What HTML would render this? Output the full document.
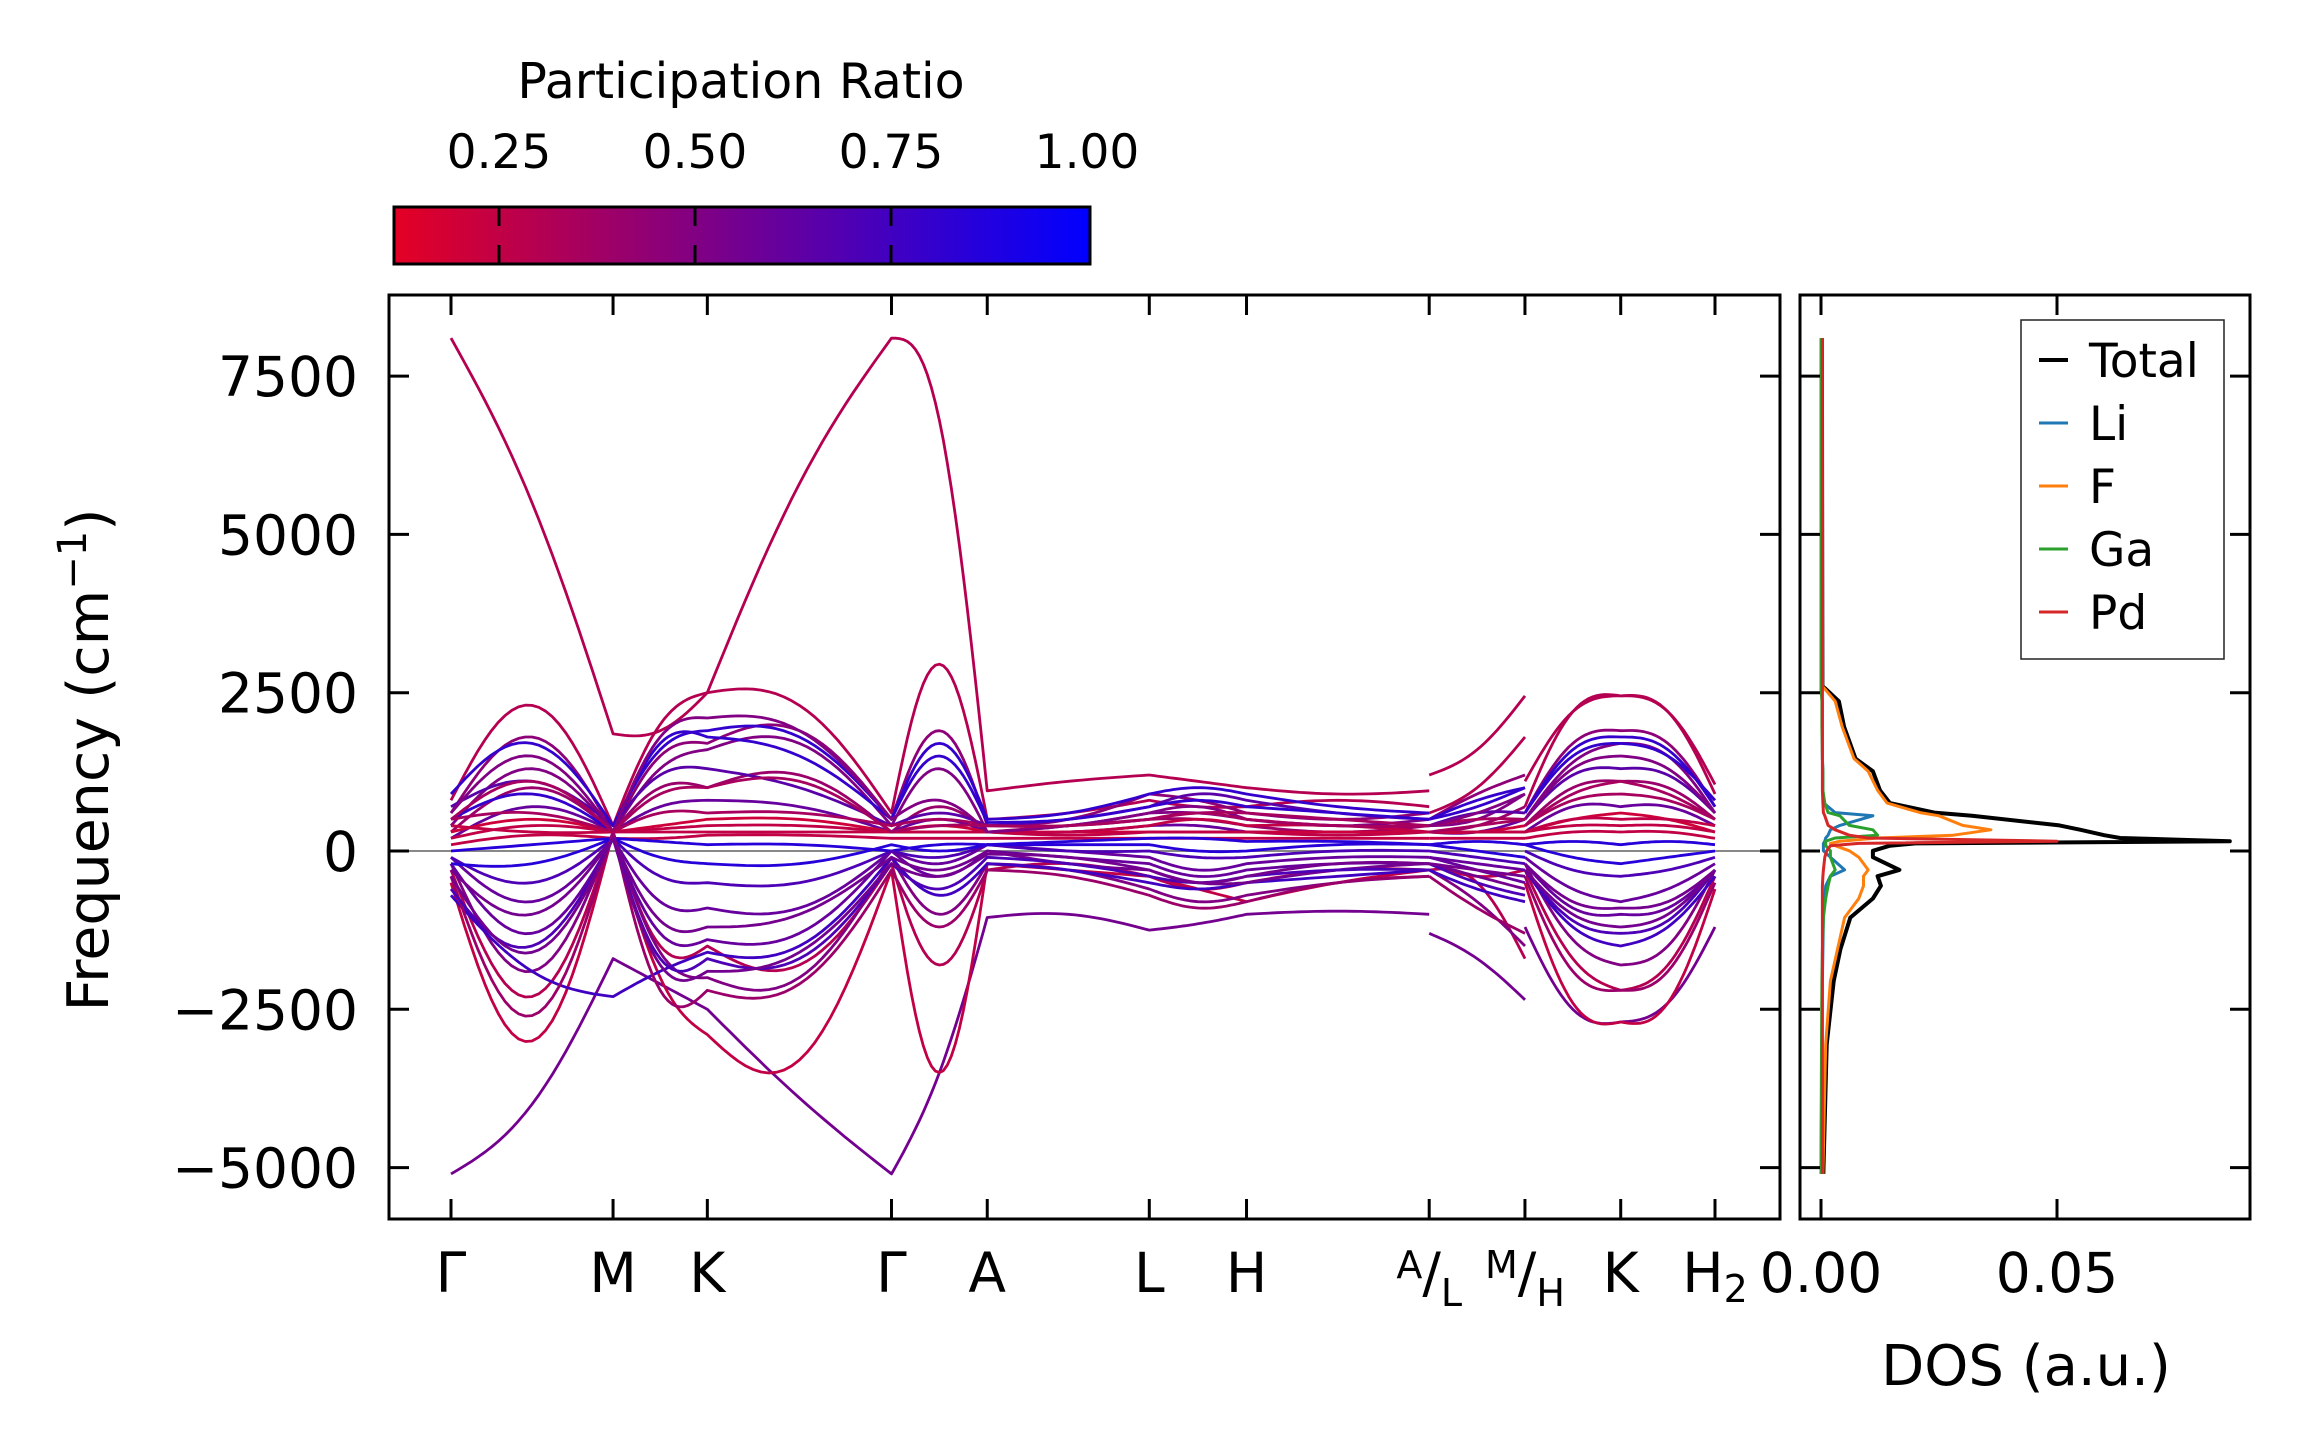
<!DOCTYPE html>
<html><head><meta charset="utf-8"><style>
html,body{margin:0;padding:0;background:#fff;}
svg{display:block;font-family:"DejaVu Sans","Liberation Sans",sans-serif;}
</style></head><body>
<svg id="fig" width="2308" height="1455" viewBox="0 0 2308 1455" xmlns="http://www.w3.org/2000/svg">
<defs>
<linearGradient id="cbgrad" x1="0" x2="1" y1="0" y2="0">
<stop offset="0" stop-color="rgb(228,0,36)"/><stop offset="1" stop-color="rgb(0,0,255)"/>
</linearGradient>
<clipPath id="mainclip"><rect x="389" y="295" width="1391" height="924"/></clipPath>
<clipPath id="dosclip"><rect x="1800" y="295" width="450" height="924"/></clipPath>
</defs>
<g id="colorbar">
<text x="741" y="98" font-size="49" text-anchor="middle">Participation Ratio</text>
<rect x="394" y="207" width="696" height="57" fill="url(#cbgrad)" stroke="#000" stroke-width="3"/>
<g id="cbticks"></g>
</g>
<g id="main">
<g id="bands" clip-path="url(#mainclip)"></g>
<rect x="389" y="295" width="1391" height="924" fill="none" stroke="#000" stroke-width="3"/>
<g id="mainticks"></g>
<text transform="translate(108,760) rotate(-90)" font-size="57" text-anchor="middle">Frequency (cm<tspan font-size="40" dy="-22">−1</tspan><tspan dy="22">)</tspan></text>
</g>
<g id="dos">
<g id="doslines" clip-path="url(#dosclip)"></g>
<rect x="1800" y="295" width="450" height="924" fill="none" stroke="#000" stroke-width="3"/>
<g id="dosticks"></g>
<text x="2026" y="1385" font-size="56" text-anchor="middle">DOS (a.u.)</text>
<g id="legend">
<rect x="2021" y="320" width="203" height="339" fill="#fff" stroke="#222" stroke-width="1.5"/>
</g>
</g>
</svg>
<script>
// ---------- data ----------
const cbTicks = [0.25, 0.50, 0.75, 1.00];
const cbTickLabels = ["0.25", "0.50", "0.75", "1.00"];
const yTicks = [-5000, -2500, 0, 2500, 5000, 7500];
const yTickLabels = ["\u22125000", "\u22122500", "0", "2500", "5000", "7500"];
const kLabelPos = [0, 1.10, 1.74, 2.99, 3.64, 4.74, 5.40, 6.64, 7.29, 7.94, 8.58];
const kLabels = ["Γ", "M", "K", "Γ", "A", "L", "H", "A|L", "M|H", "K", "H2"];
// knot k-coordinates: group1 (Γ-M-K-Γ-A-L-H-A), group2 (L-M), group3 (H-K-H2)
const knotsG1 = [0, 0.55, 1.10, 1.42, 1.74, 2.37, 2.99, 3.30, 3.64, 4.19, 4.74, 5.07, 5.40, 6.02, 6.64];
const knotsG2 = [6.64, 6.96, 7.29];
const knotsG3 = [7.29, 7.62, 7.94, 8.26, 8.58];
// band frequencies at knots (cm^-1): 15 | 3 | 5 values
const b01 = [8100,5500,1850, 1900,2500, 5800,8100, 6800,950, 1100,1200, 1100,1000, 900,950, 1200,1600,2450, 1100,2200,2450,2200,1050];
const b02 = [-5100,-4000,-1700, -2100,-2500, -3900,-5100, -3500,-1050, -1000,-1250, -1150,-1000, -950,-1000, -1300,-1700,-2350, -1200,-2500,-2700,-2400,-1200];
const b03 = [-500,-3000,300, -2000,-2900, -3300,-300, -3500,-200, -300,-400, -600,-800, -500,-300, -200,-400,-300, -500,-2400,-2700,-2400,-600];
const b04 = [800,2300,400, 2000,2500, 2300,600, 2950,500, 600,800, 700,700, 800,700, 600,1000,1800, 700,2200,2450,2200,900];
const b05 = [600,1800,300, 1500,1700, 1900,500, 1900,400, 500,900, 800,600, 500,600, 500,900,1200, 600,1700,1900,1700,700];
const b06 = [400,1300,300, 1300,1600, 1700,400, 1300,300, 400,600, 700,500, 400,500, 400,500,900, 500,1400,1700,1500,600];
const b07 = [300,1000,300, 1000,1000, 1200,300, 700,300, 400,500, 500,400, 300,400, 300,400,700, 400,1000,1100,1000,500];
const b08 = [200,700,300, 700,800, 700,300, 500,300, 300,400, 400,300, 300,300, 300,300,500, 300,700,700,700,400];
const b09 = [300,500,300, 400,500, 500,300, 400,300, 300,300, 300,300, 300,300, 300,300,400, 300,500,600,500,300];
const b10 = [200,400,300, 350,400, 400,300, 300,300, 250,300, 300,300, 250,300, 300,300,300, 300,400,400,400,300];
const b11 = [100,250,200, 200,250, 250,200, 200,200, 200,200, 200,200, 200,200, 200,200,200, 200,300,300,300,200];
const b12 = [0,100,200, 150,100, 100,0, 100,100, 150,200, 200,150, 150,100, 100,150,100, 100,150,100,150,100];
const b13 = [-300,-2300,300, -1500,-1500, -1800,-200, -1800,-300, -200,-400, -600,-500, -300,-300, -300,-500,-1700, -300,-1700,-2200,-1800,-400];
const b14 = [-200,-1900,300, -1600,-2000, -2000,-100, -1000,-200, -300,-600, -800,-700, -500,-400, -300,-800,-1500, -200,-1400,-1800,-1500,-300];
const b15 = [-700,-1900,-2300, -1900,-1600, -1500,-100, -700,-200, -300,-500, -600,-500, -400,-300, -300,-600,-800, -300,-1200,-1500,-1200,-400];
const b16 = [-200,-1300,200, -1300,-1400, -1300,0, -400,0, -100,-200, -400,-300, -200,-200, -100,-300,-500, -200,-900,-1000,-900,-300];
const b17 = [-100,-800,200, -800,-900, -900,0, -200,100, 0,-100, -300,-200, -100,-100, -100,-200,-300, -100,-600,-800,-600,-200];
const b18 = [-100,-500,200, -400,-500, -500,0, -100,100, 0,0, -100,-100, 0,0, 0,-100,-200, 0,-300,-400,-300,-100];
const b19 = [500,900,300, 1700,1800, 1500,500, 1700,500, 600,900, 1000,900, 700,600, 500,800,1000, 600,1500,1700,1500,800];
const b20 = [700,1100,400, 1200,1300, 1000,400, 600,400, 500,700, 900,800, 600,500, 400,600,600, 500,1200,1300,1200,600];
const b21 = [500,600,300, 600,600, 600,400, 500,400, 400,500, 600,600, 500,400, 400,500,500, 400,800,900,800,500];
const b22 = [400,300,300, 300,300, 300,300, 300,300, 300,400, 500,400, 400,300, 300,300,300, 300,500,500,500,400];
const b23 = [-300,-1000,200, -1100,-1200, -1000,-100, -300,0, -200,-300, -500,-500, -300,-200, -200,-400,-600, -200,-800,-900,-800,-300];
const b24 = [-200,-200,200, -100,-200, -200,100, 0,100, 100,100, 0,0, 100,100, 100,0,-100, 100,-100,-200,-100,0];
const b25 = [900,1700,400, 1600,1900, 1800,500, 1500,450, 500,700, 800,700, 600,500, 500,700,1000, 600,1600,1800,1600,700];
const b26 = [600,1500,300, 1800,2100, 1900,500, 800,300, 400,600, 600,500, 400,400, 400,600,900, 500,1300,1500,1300,600];
const b27 = [-400,-2600,300, -2200,-2200, -2100,-300, -1200,-300, -400,-700, -900,-800, -500,-400, -400,-900,-1300, -400,-1900,-2200,-1900,-500];
const b28 = [-600,-1500,200, -1700,-1700, -1700,-200, -600,-100, -200,-400, -500,-400, -300,-300, -200,-500,-700, -300,-1100,-1300,-1100,-300];
const b29 = [500,1100,300, 900,1000, 1100,300, 400,400, 400,500, 600,500, 400,400, 300,400,500, 400,900,1100,900,500];
const b30 = [-400,-1600,200, -1800,-1900, -1600,-200, -400,-50, -100,-300, -500,-400, -200,-200, -200,-300,-400, -300,-1000,-1200,-1000,-300];
const bands = [b01,b02,b03,b04,b05,b06,b07,b08,b09,b10,b11,b12,b13,b14,b15,b16,b17,b18,b19,b20,b21,b22,b23,b24,b25,b26,b27,b28,b29,b30];
const bandPR = [0.30,0.55,0.25,0.30,0.45,0.50,0.40,0.60,0.20,0.25,0.25,0.85,0.30,0.50,0.75,0.60,0.60,0.70,0.80,0.65,0.35,0.25,0.55,0.85,0.80,0.50,0.40,0.70,0.35,0.55];
// DOS data
const dosFreq = [8100,2600,2560,2364,1962,1460,1259,958,756,606,556,405,335,250,205,154,120,83,3,-98,-298,-398,-550,-750,-1052,-1553,-2055,-3056,-5070,-5100];
const dosTotal = [0.0002,0.0003,0.001,0.0038,0.0049,0.0073,0.011,0.0125,0.0146,0.024,0.032,0.0505,0.055,0.060,0.0634,0.0866,0.020,0.0146,0.011,0.011,0.0166,0.012,0.0127,0.011,0.0062,0.0041,0.0027,0.0012,0.0005,0.0005];
const dosLi = [0,0,0,0.0003,0.0003,0.0003,0.0004,0.0004,0.0006,0.003,0.011,0.004,0.002,0.0015,0.001,0.0008,0.0005,0.0005,0.0005,0.002,0.005,0.002,0.001,0.0008,0.0005,0.0004,0.0003,0.0002,0,0];
const dosF = [0.0002,0.0003,0.0008,0.003,0.0045,0.007,0.010,0.012,0.014,0.021,0.025,0.030,0.036,0.028,0.012,0.004,0.002,0.003,0.006,0.008,0.010,0.009,0.009,0.008,0.005,0.0035,0.002,0.001,0.0004,0.0004];
const dosGa = [0,0,0,0.0002,0.0002,0.0003,0.0004,0.0004,0.0008,0.0015,0.004,0.006,0.011,0.012,0.003,0.001,0.001,0.001,0.002,0.002,0.003,0.002,0.0015,0.001,0.0005,0.0003,0.0002,0.0001,0,0];
const dosPd = [0.0003,0.0003,0.0003,0.0003,0.0003,0.0003,0.0003,0.0003,0.0004,0.0005,0.0008,0.0015,0.003,0.006,0.010,0.050,0.008,0.002,0.0012,0.0008,0.0005,0.0004,0.0003,0.0003,0.0003,0.0003,0.0003,0.0003,0.0003,0.0003];
const dosSeries = [dosTotal, dosLi, dosF, dosGa, dosPd];
const dosNames = ["Total","Li","F","Ga","Pd"];
const dosColors = ["#000000","#1f77b4","#ff7f0e","#2ca02c","#d62728"];
const dosTicks = [0, 0.05];
const dosTickLabels = ["0.00","0.05"];

// ---------- scales ----------
const NS="http://www.w3.org/2000/svg";
const xk = k => 451 + k*(1715-451)/8.58;
const yf = f => 851 - f*158.3/2500;
const xd = v => 1821 + v*(2057-1821)/0.05;
const cbx = v => 303 + v*784;
const prMin = 0.116, prMax = 1.0;
function prColor(p){const t=Math.max(0,Math.min(1,(p-prMin)/(prMax-prMin)));return `rgb(${Math.round(228*(1-t))},0,${Math.round(36+219*t)})`;}
function mk(tag, attrs, parent){const e=document.createElementNS(NS,tag);for(const a in attrs)e.setAttribute(a,attrs[a]);parent.appendChild(e);return e;}

// colorbar ticks
const cbt=document.getElementById('cbticks');
cbTicks.forEach((v,i)=>{
  const x=cbx(v);
  if(v<1){
    const l1=mk('line',{x1:x,x2:x,y1:207,y2:226,stroke:'#000','stroke-width':3},cbt);
    
    
    const l2=mk('line',{x1:x,x2:x,y1:245,y2:264,stroke:'#000','stroke-width':3},cbt);
    
    
  }
  const t=mk('text',{x:x,y:168,'font-size':47,'text-anchor':'middle'},cbt);
  t.textContent=cbTickLabels[i];
  
  
});

// main ticks
const mt=document.getElementById('mainticks');
yTicks.forEach((v,i)=>{
  const y=yf(v);
  const a=mk('line',{x1:389,x2:409,y1:y,y2:y,stroke:'#000','stroke-width':3},mt);
  
  
  const b=mk('line',{x1:1760,x2:1780,y1:y,y2:y,stroke:'#000','stroke-width':3},mt);
  
  
  const t=mk('text',{x:358,y:y+20,'font-size':55,'text-anchor':'end'},mt);
  t.textContent=yTickLabels[i];
  
  
});
kLabelPos.forEach((k,i)=>{
  const x=xk(k);
  const a=mk('line',{x1:x,x2:x,y1:1199,y2:1219,stroke:'#000','stroke-width':3},mt);
  
  
  const b=mk('line',{x1:x,x2:x,y1:295,y2:315,stroke:'#000','stroke-width':3},mt);
  
  
  const lab=kLabels[i];
  const t=mk('text',{x:x,y:1292,'font-size':55,'text-anchor':'middle'},mt);
  
  
  if(lab.indexOf('|')>=0){
    const p=lab.split('|');
    const s1=mk('tspan',{'font-size':38,dy:-14},t);s1.textContent=p[0];
    const s2=mk('tspan',{dy:14},t);s2.textContent='/';
    const s3=mk('tspan',{'font-size':38,dy:14},t);s3.textContent=p[1];
  } else if(lab==='H2'){
    const s1=mk('tspan',{},t);s1.textContent='H';
    const s2=mk('tspan',{'font-size':38,dy:10},t);s2.textContent='2';
  } else t.textContent=lab;
});

// zero line
const bg=document.getElementById('bands');
const zl=mk('line',{x1:389,x2:1780,y1:yf(0),y2:yf(0),stroke:'#888','stroke-width':2},bg);



// bands: each segment = start, mid, end knots; lens-shaped interpolation
function segPts(k0,k1,f0,fm,f1,arr){
  const n=24;
  for(let j=0;j<=n;j++){const t=j/n;const lin=f0+(f1-f0)*t;const f=lin+(fm-(f0+f1)/2)*Math.sin(Math.PI*t);arr.push([xk(k0+(k1-k0)*t),yf(f)]);}
}
function groupPath(knots,vals){
  const pts=[];
  for(let s=0;s+2<knots.length;s+=2) segPts(knots[s],knots[s+2],vals[s],vals[s+1],vals[s+2],pts);
  return 'M'+pts.map(p=>p[0].toFixed(1)+','+p[1].toFixed(1)).join('L');
}
bands.forEach((b,i)=>{
  const col=prColor(bandPR[i]);
  const g1=b.slice(0,15), g2=b.slice(15,18), g3=b.slice(18,23);
  [[knotsG1,g1],[knotsG2,g2],[knotsG3,g3]].forEach(([kn,v])=>{
    const p=mk('path',{d:groupPath(kn,v),fill:'none',stroke:col,'stroke-width':2.8,'stroke-linejoin':'round'},bg);
    
    
  });
});

// DOS ticks
const dt=document.getElementById('dosticks');
yTicks.forEach(v=>{
  const y=yf(v);
  const a=mk('line',{x1:1800,x2:1820,y1:y,y2:y,stroke:'#000','stroke-width':3},dt);
  
  
  const b=mk('line',{x1:2230,x2:2250,y1:y,y2:y,stroke:'#000','stroke-width':3},dt);
  
  
});
dosTicks.forEach((v,i)=>{
  const x=xd(v);
  const a=mk('line',{x1:x,x2:x,y1:1199,y2:1219,stroke:'#000','stroke-width':3},dt);
  
  
  const b=mk('line',{x1:x,x2:x,y1:295,y2:315,stroke:'#000','stroke-width':3},dt);
  
  
  const t=mk('text',{x:x,y:1292,'font-size':55,'text-anchor':'middle'},dt);
  t.textContent=dosTickLabels[i];
  
  
});

// DOS curves
const dl=document.getElementById('doslines');
dosSeries.forEach((s,i)=>{
  const d='M'+s.map((v,j)=>xd(v).toFixed(1)+','+yf(dosFreq[j]).toFixed(1)).join('L');
  const p=mk('path',{d:d,fill:'none',stroke:dosColors[i],'stroke-width':i===0?4:3,'stroke-linejoin':'round'},dl);
  
  
});

// legend
const lg=document.getElementById('legend');
dosNames.forEach((n,i)=>{
  const y=360+i*63;
  const l=mk('line',{x1:2039,x2:2068,y1:y,y2:y,stroke:dosColors[i],'stroke-width':i===0?4:3},lg);
  
  
  const t=mk('text',{x:2089,y:y+17,'font-size':47},lg);
  t.textContent=n;
  
  
});
</script>
</body></html>
